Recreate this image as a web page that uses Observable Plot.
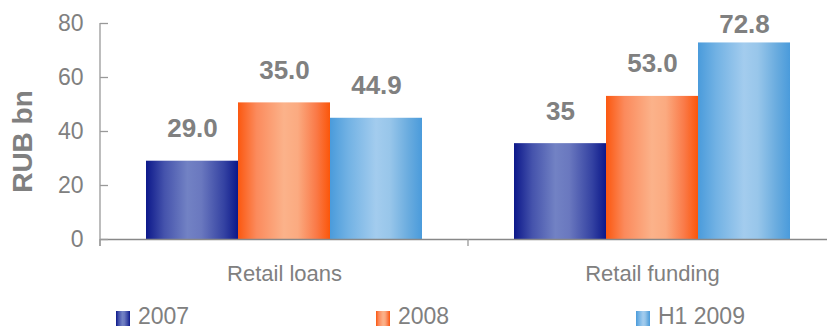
<!DOCTYPE html>
<html>
<head>
<meta charset="utf-8">
<script src="https://cdn.jsdelivr.net/npm/d3@7"></script>
<script src="https://cdn.jsdelivr.net/npm/@observablehq/plot@0.6"></script>
<style>
  html, body { margin: 0; padding: 0; background: #fff; overflow: hidden; }
  #wrap { position: relative; width: 827px; height: 328px; overflow: hidden; font-family: "Liberation Sans", Arial, sans-serif; }
  #legend { position: relative; width: 827px; height: 28px; }
  .item { position: absolute; top: 0; height: 28px; }
  .sw { position: absolute; top: 11px; left: 0; width: 14px; height: 15px; }
  .lt { position: absolute; top: 6px; left: 22px; font-size: 23px; line-height: 20px; color: #808080; white-space: nowrap; }
</style>
</head>
<body>
<div id="wrap"><div id="chart"></div><div id="legend"></div></div>
<script>
// ---- data ----
const groups = ["Retail loans", "Retail funding"];
const series = ["2007", "2008", "H1 2009"];
const loansHeights = [29.0, 50.6, 44.9];
const fundingHeights = [35.5, 53.0, 72.8];
const loansLabels = ["29.0", "35.0", "44.9"];
const fundingLabels = ["35", "53.0", "72.8"];
const yTicks = [0, 20, 40, 60, 80];
const yDomain = [0, 80];
const yTitle = "RUB bn";

// ---- styling ----
const FONT = "'Liberation Sans', Arial, sans-serif";
const GRAY = "#808080";
const gradients = [
  [["0%", "#0c188a"], ["20%", "#4553ac"], ["45%", "#7282c4"], ["60%", "#6a78bf"], ["85%", "#3442a2"], ["100%", "#0c188a"]],
  [["0%", "#fb5810"], ["20%", "#fb8a5c"], ["50%", "#fbb28a"], ["65%", "#fbaa80"], ["85%", "#fa7a48"], ["100%", "#fb560a"]],
  [["0%", "#4a9bdb"], ["20%", "#72b2e4"], ["50%", "#a3ccee"], ["65%", "#98c6ea"], ["85%", "#6aacdf"], ["100%", "#4a9bdb"]]
];
const labelCap = 67.5;

const heightsByGroup = [loansHeights, fundingHeights];
const labelsByGroup = [loansLabels, fundingLabels];
const rows = [];
groups.forEach((g, gi) => series.forEach((s, si) => rows.push({
  group: g, series: s, value: heightsByGroup[gi][si], label: labelsByGroup[gi][si]
})));

const plot = Plot.plot({
  width: 827,
  height: 300,
  marginLeft: 100,
  marginRight: -9,
  marginTop: 23,
  marginBottom: 61,
  style: { fontFamily: FONT, background: "transparent", overflow: "hidden" },
  fx: { domain: groups, padding: 0, label: null },
  x: { domain: series, paddingInner: 0, paddingOuter: 0.5, axis: null },
  y: { domain: yDomain, label: null },
  marks: [
    ...series.map((s, i) => Plot.barY(rows.filter(r => r.series === s), {
      fx: "group", x: "series", y: "value", fill: `url(#grad${i})`
    })),
    Plot.ruleY([0], { stroke: "#888", strokeWidth: 1.5 }),
    Plot.text(rows, {
      fx: "group", x: "series", y: d => Math.min(d.value, labelCap), text: "label",
      dy: -24, lineAnchor: "bottom", fontSize: 26, fontWeight: "bold", fill: GRAY
    }),
    Plot.axisY(yTicks, { tickSize: -8, tickPadding: 25, fontSize: 23, fill: GRAY, stroke: "#999", strokeWidth: 1.3, label: null }),
    Plot.axisFx({ anchor: "bottom", tickSize: 0, tickPadding: 26, fontSize: 22, fill: GRAY, label: null }),
    Plot.text([yTitle], {
      frameAnchor: "left", textAnchor: "middle", rotate: -90, dx: -77, dy: 10, fontSize: 28, fontWeight: "bold",
      fill: GRAY, facetAnchor: "left"
    })
  ]
});

// gradient defs
const svg = d3.select(plot);
const defs = svg.insert("defs", ":first-child");
gradients.forEach((stops, i) => {
  const lg = defs.append("linearGradient").attr("id", `grad${i}`).attr("x1", "0").attr("x2", "1").attr("y1", "0").attr("y2", "0");
  stops.forEach(([o, c]) => lg.append("stop").attr("offset", o).attr("stop-color", c));
});

// axis line and category separator ticks, positioned through Plot's scales
const fxS = plot.scale("fx"), yS = plot.scale("y");
const y0 = yS.apply(0), yTop = yS.apply(yDomain[1]);
const extra = svg.append("g").attr("stroke", "#999").attr("stroke-width", 1.3);
extra.append("line").attr("x1", fxS.apply(groups[0])).attr("x2", fxS.apply(groups[0])).attr("y1", yTop).attr("y2", y0 + 7);
groups.forEach(g => {
  const x = fxS.apply(g);
  extra.append("line").attr("x1", x).attr("x2", x).attr("y1", y0).attr("y2", y0 + 7);
});

document.getElementById("chart").appendChild(plot);

// legend
const legendX = [116, 376, 636];
const legend = document.getElementById("legend");
series.forEach((s, i) => {
  const item = document.createElement("div");
  item.className = "item";
  item.style.left = legendX[i] + "px";
  const sw = document.createElement("div");
  sw.className = "sw";
  sw.style.background = `linear-gradient(to right, ${gradients[i].map(([o, c]) => c + " " + o).join(", ")})`;
  const t = document.createElement("div");
  t.className = "lt";
  t.textContent = s;
  item.appendChild(sw); item.appendChild(t);
  legend.appendChild(item);
});
</script>
</body>
</html>
